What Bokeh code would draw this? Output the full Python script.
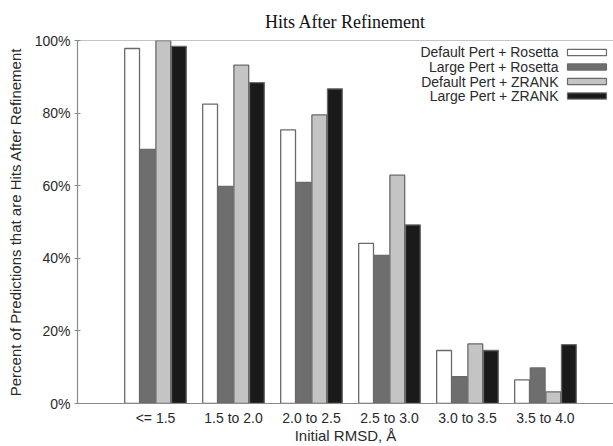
from bokeh.plotting import figure
from bokeh.models import FixedTicker, PrintfTickFormatter, Range1d, Span
from bokeh.core.properties import value
from bokeh.embed import file_html
from bokeh.resources import INLINE

# RMSD bins and the hit percentage for each refinement protocol
categories = ["<= 1.5", "1.5 to 2.0", "2.0 to 2.5", "2.5 to 3.0", "3.0 to 3.5", "3.5 to 4.0"]
default_rosetta = [97.8, 82.5, 75.4, 44.1, 14.6, 6.5]
large_rosetta = [70.0, 59.8, 60.9, 40.8, 7.4, 9.8]
default_zrank = [100.0, 93.2, 79.5, 62.9, 16.4, 3.2]
large_zrank = [98.4, 88.4, 86.7, 49.2, 14.6, 16.2]

series_names = ["Default Pert + Rosetta", "Large Pert + Rosetta",
                "Default Pert + ZRANK", "Large Pert + ZRANK"]
series_values = [default_rosetta, large_rosetta, default_zrank, large_zrank]
series_colors = ["#ffffff", "#6e6e6e", "#c4c4c4", "#1a1a1a"]

SANS = "Liberation Sans"
AXIS_GRAY = "#8a8a8a"
TEXT = "#2a2a2a"

p = figure(width=613, height=446, output_backend="svg", toolbar_location=None,
           x_range=Range1d(-1.0, 5.872), y_range=Range1d(0, 100),
           min_border_left=77, min_border_right=0, min_border_top=40,
           min_border_bottom=42, title="Hits After Refinement")
p.outline_line_color = None
p.grid.grid_line_color = None
p.background_fill_color = "white"
p.border_fill_color = "white"

p.title.align = "center"
p.title.text_font = "Liberation Serif"
p.title.text_font_size = "18px"
p.title.text_font_style = "normal"
p.title.text_color = "#111111"
p.title.standoff = 17

bar_w = 0.2
offsets = [-1.5, -0.5, 0.5, 1.5]
xs = list(range(len(categories)))
for vals, off, col in zip(series_values, offsets, series_colors):
    p.vbar(x=[i + off * bar_w for i in xs], top=vals, bottom=0, width=bar_w - 0.01,
           fill_color=col, line_color="#6a6a6a", line_width=1.3)

# top frame line
p.add_layout(Span(location=100, dimension="width", line_color=AXIS_GRAY, line_width=1.2))

# legend with text on the left and swatches on the right
leg_y = [96.7, 92.7, 88.7, 84.7]
p.text(x=[5.167] * 4, y=leg_y, text=series_names, text_align="right",
       text_baseline="middle", text_font=value(SANS), text_font_size="14px",
       text_color=TEXT)
p.quad(left=[5.282] * 4, right=[5.782] * 4,
       bottom=[v - 0.85 for v in leg_y], top=[v + 0.85 for v in leg_y],
       fill_color=series_colors, line_color="#6a6a6a", line_width=1.2)

# x axis
xa = p.xaxis[0]
xa.ticker = FixedTicker(ticks=xs)
xa.major_label_overrides = {i: c for i, c in enumerate(categories)}
xa.major_tick_line_color = None
xa.major_tick_in = 0
xa.major_tick_out = 0
xa.minor_tick_line_color = None
xa.major_label_standoff = 6
xa.axis_label = "Initial RMSD, Å"
xa.axis_label_standoff = -2
xa.axis_label_text_font = SANS
xa.axis_label_text_font_style = "normal"
xa.axis_label_text_font_size = "15px"
xa.axis_label_text_color = TEXT
xa.major_label_text_font = SANS
xa.major_label_text_font_size = "14px"
xa.major_label_text_color = TEXT
xa.axis_line_color = AXIS_GRAY
xa.axis_line_width = 1.2

# y axis
ya = p.yaxis[0]
ya.ticker = FixedTicker(ticks=[0, 20, 40, 60, 80, 100])
ya.formatter = PrintfTickFormatter(format="%d%%")
ya.major_tick_in = 3
ya.major_tick_out = 3
ya.major_tick_line_color = AXIS_GRAY
ya.minor_tick_line_color = None
ya.major_label_standoff = 4
ya.axis_label = "Percent of Predictions that are Hits After Refinement"
ya.axis_label_standoff = 8
ya.axis_label_text_font = SANS
ya.axis_label_text_font_style = "normal"
ya.axis_label_text_font_size = "15px"
ya.axis_label_text_color = TEXT
ya.major_label_text_font = SANS
ya.major_label_text_font_size = "14px"
ya.major_label_text_color = TEXT
ya.axis_line_color = AXIS_GRAY
ya.axis_line_width = 1.2

open("out.html", "w").write(file_html(p, INLINE))
